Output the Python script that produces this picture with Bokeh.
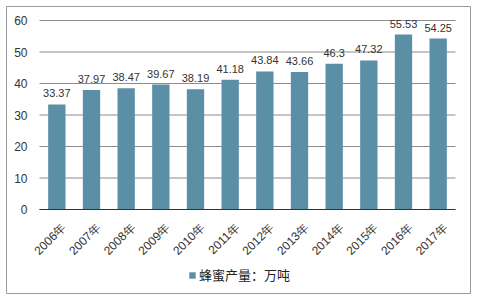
from bokeh.plotting import figure
from bokeh.models import ColumnDataSource, LabelSet, Legend, LegendItem, Range1d
from bokeh.core.properties import value
from bokeh.embed import file_html
from bokeh.resources import INLINE
import math

years = ["2006年", "2007年", "2008年", "2009年", "2010年", "2011年", "2012年",
         "2013年", "2014年", "2015年", "2016年", "2017年"]
values = [33.37, 37.97, 38.47, 39.67, 38.19, 41.18, 43.84, 43.66, 46.3, 47.32, 55.53, 54.25]
labels = ["33.37", "37.97", "38.47", "39.67", "38.19", "41.18", "43.84", "43.66", "46.3", "47.32", "55.53", "54.25"]
y_ticks = [0, 10, 20, 30, 40, 50, 60]
y_tick_labels = ["0", "10", "20", "30", "40", "50", "60"]
series_name = "蜂蜜产量：万吨"

FONT = "Liberation Sans"
CJK = "Noto Sans CJK SC"
BAR = "#5b8fa6"

n = len(years)
xs = list(range(n))
src = ColumnDataSource(dict(x=xs, top=values, lab=labels, year=years))

# frame is the outer bordered box; plot area sits inside it
W, H = 480, 300
left, right, top, bottom = 6, 10, 6, 7
area_l, area_r, area_t, area_b = 39, 455, 20, 209
px_per_cat = (area_r - area_l) / n
px_per_unit = (area_b - area_t) / 60.0
x0 = -0.5 - (area_l - left) / px_per_cat
x1 = n - 0.5 + ((W - right) - area_r) / px_per_cat
y0 = -((H - bottom) - area_b) / px_per_unit
y1 = 60 + (area_t - top) / px_per_unit

p = figure(x_range=Range1d(x0, x1), y_range=Range1d(y0, y1), width=W, height=H,
           output_backend="svg", toolbar_location=None,
           x_axis_location=None, y_axis_location=None,
           min_border_left=left, min_border_right=right,
           min_border_top=top, min_border_bottom=bottom)
p.outline_line_color = "#9a9a9a"
p.outline_line_width = 1
p.background_fill_color = "white"
p.border_fill_color = "white"
p.grid.visible = False

# gridlines
p.segment(x0=[-0.5] * len(y_ticks), x1=[n - 0.5] * len(y_ticks), y0=y_ticks, y1=y_ticks,
          line_color="#8c8c8c", line_width=1)

r = p.vbar(x="x", top="top", width=0.5, source=src, fill_color=BAR, line_color=None)

# x axis line
p.segment(x0=[-0.5], x1=[n - 0.5], y0=[0], y1=[0], line_color="#333333", line_width=1)

# value labels
p.add_layout(LabelSet(x="x", y="top", text="lab", source=src, text_align="center",
                      text_baseline="bottom", y_offset=7, text_font_size="11px",
                      text_color="#333333", text_font=value(FONT)))

# y tick labels
p.text(x=[-0.5] * len(y_ticks), y=y_ticks, text=y_tick_labels, x_offset=-12,
       text_align="right", text_baseline="middle", text_font_size="12px",
       text_color="#333333", text_font=value(FONT))

# x tick labels (rotated)
p.text(x="x", y=0, text="year", source=src, angle=math.pi / 4,
       x_offset=7, y_offset=16, text_align="right", text_baseline="middle",
       text_font_size="12px", text_color="#333333", text_font=value(FONT))

legend = Legend(items=[LegendItem(label=series_name, renderers=[r])],
                location=(182, 9), orientation="horizontal",
                glyph_width=8, glyph_height=8, label_text_font_size="13px",
                label_text_color="#222222", label_text_font=CJK,
                border_line_color=None, background_fill_alpha=0,
                padding=0, spacing=0, label_standoff=3, margin=0)
p.add_layout(legend, "center")

open("out.html", "w").write(file_html(p, INLINE))
